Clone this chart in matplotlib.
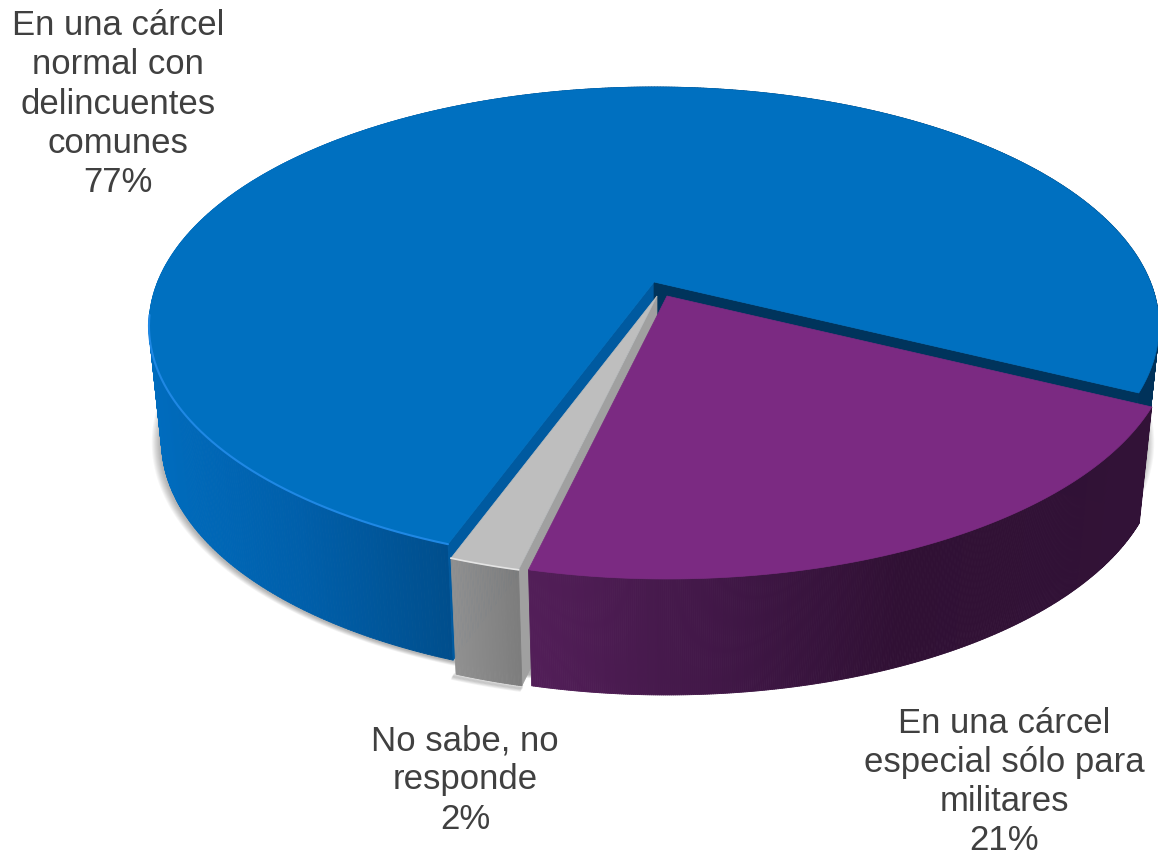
import numpy as np
import matplotlib
matplotlib.use('Agg')
import matplotlib.pyplot as plt
from matplotlib.collections import PolyCollection
from matplotlib.patches import Polygon

# shares, labels round them
names = ['En una cárcel\nnormal con\ndelincuentes\ncomunes', 'En una cárcel\nespecial sólo para\nmilitares', 'No sabe, no\nresponde']
values = [76.7, 21.4, 1.9]

plt.rcParams['font.family'] = ['Liberation Sans', 'DejaVu Sans']

W, H = 1158, 856
A, B, K = 496.4, 230.9, 0.184   # disc in perspective
DEPTH = 116
START = -26.2
CX = 654


def project(theta, apex):
    t = np.radians(theta)
    w = 1 + K * np.sin(t)
    return apex[0] + A * np.cos(t) / w, apex[1] - B * np.sin(t) / w


def lower(x, y):
    return CX + 0.975 * (np.asarray(x) - CX), np.asarray(y) + DEPTH


def rim(a1, a2, apex, n=400):
    th = np.linspace(a1, a2, n)
    return project(th, apex)


def flat(ax, x, y, color, z):
    ax.add_patch(Polygon(np.column_stack([x, y]), closed=True, fc=color, ec=color, lw=0.5, zorder=z))


def wall(ax, x, y, stops, z):
    # outer wall as thin quads, coloured by their x position
    xb, yb = lower(x, y)
    xs = [s[0] for s in stops]
    quads = []
    cols = []
    for i in range(len(x) - 1):
        quads.append([(x[i], y[i]), (x[i + 1], y[i + 1]), (xb[i + 1], yb[i + 1]), (xb[i], yb[i])])
        mid = (x[i] + x[i + 1]) / 2
        cols.append([np.interp(mid, xs, [s[1][c] / 255 for s in stops]) for c in range(3)])
    order = np.argsort(y[:-1])
    pc = PolyCollection([quads[i] for i in order], facecolors=[cols[i] for i in order],
                        edgecolors=[cols[i] for i in order], linewidths=0.6, zorder=z)
    ax.add_collection(pc)


def cut_wall(theta, apex):
    x0, y0 = project(theta, apex)
    xb, yb = lower(x0, y0)
    ax_, ay_ = lower(apex[0], apex[1])
    return [apex[0], x0, xb, ax_], [apex[1], y0, yb, ay_]


fig = plt.figure(figsize=(W / 100, H / 100), dpi=100)
ax = fig.add_axes([0, 0, 1, 1])

# slice angles come from the values, clockwise from START
purple_end = START - values[1] * 3.6
gray_end = purple_end - values[2] * 3.6
blue_end = START - 360

apex_blue = (654, 282)
apex_purple = (667, 296)
apex_gray = (657, 296)

# soft shadow under the whole pie
sx, sy = rim(0, 360, apex_blue)
sbx, sby = lower(sx, sy)
for i in range(9, 0, -1):
    f = 1 + i * 0.002
    px = CX + f * (sbx - CX) - 1
    py = 350 + DEPTH + f * (sby - 350 - DEPTH) + 1
    ax.add_patch(Polygon(np.column_stack([px, py]), closed=True, fc='#000000', ec='none', alpha=0.035, zorder=1))
sgx, sgy = lower(*rim(purple_end, gray_end, apex_gray, 30))
for i in range(6, 0, -1):
    ax.plot(sgx - i * 0.5, sgy + i * 0.7, color='#000000', alpha=0.05, lw=2.5, zorder=1)

# blue slice
x, y = rim(gray_end, blue_end, apex_blue, 700)
wall(ax, x, y, [(150, (0, 108, 190)), (300, (0, 95, 170)), (450, (0, 78, 140)), (700, (0, 60, 110)), (1130, (0, 50, 90)), (1158, (0, 50, 90))], 2)
cx_, cy_ = cut_wall(gray_end, apex_blue)
flat(ax, cx_, cy_, '#005AA0', 3)
cx_, cy_ = cut_wall(START, apex_blue)
flat(ax, cx_, cy_, '#00345C', 3)
flat(ax, np.r_[apex_blue[0], x], np.r_[apex_blue[1], y], '#0070C0', 4)
hx, hy = rim(-172, gray_end, apex_blue)
ax.plot(hx, hy, color='#1F88E4', lw=1.5, zorder=5, solid_capstyle='round')

# gray slice
x, y = rim(purple_end, gray_end, apex_gray, 40)
cx_, cy_ = cut_wall(purple_end, apex_gray)
flat(ax, cx_, cy_, '#A0A0A0', 6)
wall(ax, x, y, [(448, (146, 146, 146)), (522, (124, 124, 124))], 7)
flat(ax, np.r_[apex_gray[0], x], np.r_[apex_gray[1], y], '#BEBEBE', 8)
ax.plot(x, y, color='#E4E4E4', lw=1.2, zorder=9)

# purple slice
x, y = rim(START, purple_end, apex_purple)
wall(ax, x, y, [(535, (82, 30, 88)), (750, (62, 22, 68)), (900, (48, 16, 52)), (1150, (50, 18, 55))], 10)
flat(ax, np.r_[apex_purple[0], x], np.r_[apex_purple[1], y], '#7B2A82', 11)

# labels
label_pos = [(118, 104), (1004, 782), (465, 780)]
for name, v, (lx, ly) in zip(names, values, label_pos):
    ax.text(lx, ly, f'{name}\n{round(v)}%', ha='center', va='center', multialignment='center',
            fontsize=25, color='#404040', linespacing=1.24, zorder=12)

ax.set_xlim(0, W)
ax.set_ylim(H, 0)
ax.axis('off')
fig.savefig('out.png', dpi=100)
